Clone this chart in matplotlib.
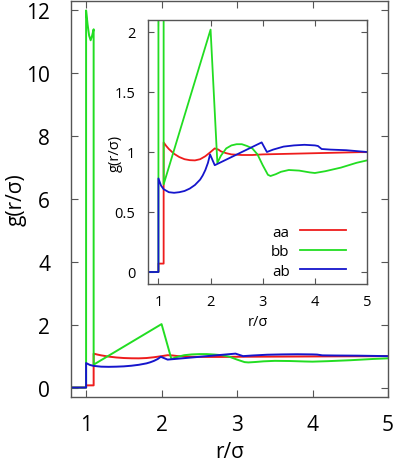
import numpy as np
import matplotlib
matplotlib.use('Agg')
import matplotlib.pyplot as plt

# g(r) 데이터
r_aa = [0.8, 1.0, 1.0, 1.1, 1.1, 1.15, 1.2, 1.3, 1.4, 1.5, 1.6, 1.7, 1.8, 1.9, 2.0, 2.08, 2.15, 2.2, 2.3, 2.4,
        2.6, 2.8, 3.0, 3.5, 4.0, 4.5, 5.0]
g_aa = [0.0, 0.0, 0.07, 0.07, 1.08, 1.05, 1.025, 0.985, 0.958, 0.94, 0.932, 0.93, 0.94, 0.965, 1.0, 1.03, 1.02, 1.005, 0.99, 0.98,
        0.975, 0.975, 0.98, 0.985, 0.99, 0.995, 1.0]

r_bb = [0.8, 1.0, 1.0, 1.02, 1.04, 1.06, 1.08, 1.1, 1.1, 2.0, 2.13, 2.2, 2.3, 2.4, 2.5, 2.6, 2.7, 2.8, 2.9,
        3.0, 3.1, 3.15, 3.25, 3.35, 3.5, 3.7, 3.9, 4.0, 4.2, 4.5, 4.8, 5.0]
g_bb = [0.0, 0.0, 12.0, 11.55, 11.2, 11.05, 11.2, 11.4, 0.73, 2.02, 0.91, 0.97, 1.03, 1.055, 1.065, 1.065, 1.05, 1.03, 0.98,
        0.89, 0.81, 0.80, 0.815, 0.835, 0.85, 0.845, 0.83, 0.825, 0.84, 0.87, 0.91, 0.93]

r_ab = [0.8, 1.0, 1.0, 1.05, 1.1, 1.2, 1.3, 1.4, 1.5, 1.6, 1.7, 1.8, 1.85, 1.9, 1.95, 1.99, 2.08, 2.98, 3.08,
        3.2, 3.4, 3.6, 3.8, 4.0, 4.06, 4.13, 4.3, 4.6, 5.0]
g_ab = [0.0, 0.0, 0.78, 0.72, 0.69, 0.665, 0.66, 0.665, 0.675, 0.695, 0.725, 0.77, 0.805, 0.85, 0.91, 0.98, 0.89, 1.08, 1.0,
        1.02, 1.045, 1.055, 1.06, 1.055, 1.05, 1.025, 1.02, 1.015, 1.0]

labels = ['aa', 'bb', 'ab']
colors = ['#ee1c1c', '#22dd22', '#1515cc']
series = [(r_aa, g_aa), (r_bb, g_bb), (r_ab, g_ab)]

plt.rcParams['font.family'] = ['Open Sans', 'DejaVu Sans']
fig = plt.figure(figsize=(3.96, 4.64), dpi=100)

def style_axes(ax, size, ticklen, xpad, ypad):
    for s in ax.spines.values():
        s.set_color('#555555')
        s.set_linewidth(1.0)
    ax.tick_params(direction='in', top=True, right=True, length=ticklen,
                   width=0.8, color='#555555', labelsize=size)
    ax.tick_params(axis='x', pad=xpad)
    ax.tick_params(axis='y', pad=ypad)

# 메인 그래프
ax = fig.add_axes([71/396, 1-398/464, 317/396, 396/464])
for (r, g), c, lab in zip(series, colors, labels):
    ax.plot(r, g, color=c, lw=1.4, label=lab)
ax.set_xlim(0.8, 5)
ax.set_ylim(-0.3, 12.3)
ax.set_xticks([1, 2, 3, 4, 5])
ax.set_yticks([0, 2, 4, 6, 8, 10, 12])
style_axes(ax, 15, 5, 12, 15)
ax.set_xlabel('r/σ', fontsize=15)
ax.set_ylabel('g(r/σ)', fontsize=15)
ax.xaxis.set_label_coords(0.5, -0.11)
ax.yaxis.set_label_coords(-0.14, 0.5)

# 안쪽 그래프
ins = fig.add_axes([148/396, 1-285/464, 219/396, 264/464])
for (r, g), c, lab in zip(series, colors, labels):
    ins.plot(r, g, color=c, lw=1.3, label=lab)
ins.set_xlim(0.8, 5)
ins.set_ylim(-0.1, 2.1)
ins.set_xticks([1, 2, 3, 4, 5])
ins.set_yticks([0, 0.5, 1, 1.5, 2])
ins.set_yticklabels(['0', '0.5', '1', '1.5', '2'])
style_axes(ins, 10.5, 4, 7, 9)
ins.set_xlabel('r/σ', fontsize=10.5)
ins.set_ylabel('g(r/σ)', fontsize=10.5)
ins.xaxis.set_label_coords(0.5, -0.115)
ins.yaxis.set_label_coords(-0.115, 0.5)
ins.legend(loc='lower right', bbox_to_anchor=(0.905, 0.02), frameon=False,
           markerfirst=False, fontsize=11, handlelength=3.0, handletextpad=0.7,
           labelspacing=0.3, borderpad=0, borderaxespad=0)

fig.savefig('out.png', dpi=100, facecolor='white')
